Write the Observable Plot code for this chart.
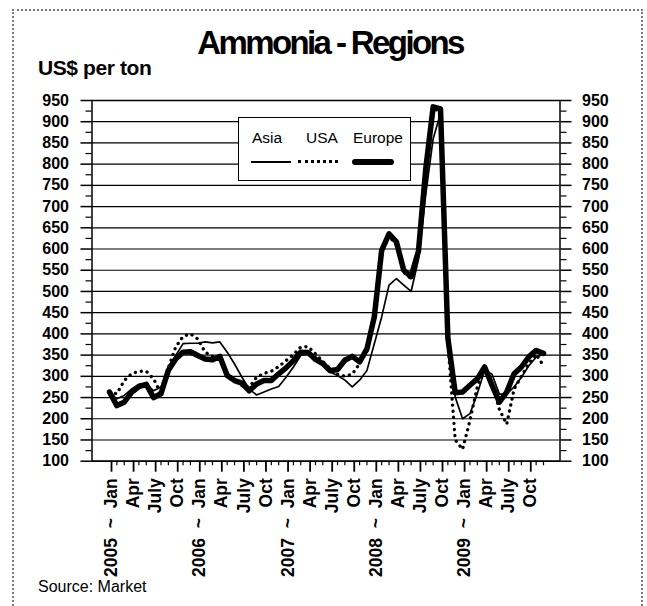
<!DOCTYPE html>
<html><head><meta charset="utf-8">
<script src="https://cdn.jsdelivr.net/npm/d3@7"></script>
<script src="https://cdn.jsdelivr.net/npm/@observablehq/plot@0.6"></script>
<style>
body{margin:0;background:#fff;}
#wrap{position:relative;width:647px;height:606px;overflow:hidden;background:#fff;font-family:"Liberation Sans",Arial,sans-serif;color:#000;}
#wrap svg{position:absolute;left:0;top:0;}
#border{position:absolute;left:12px;top:9px;width:631px;height:620px;border:2px dotted #7a7a7a;box-sizing:border-box;}
.abs{position:absolute;white-space:nowrap;}
#title{left:330px;top:26px;transform:translateX(-50%);font-size:33px;line-height:33px;font-weight:bold;letter-spacing:-2.6px;}
#unit{left:38px;top:57px;font-size:21px;line-height:21px;font-weight:bold;letter-spacing:-0.4px;}
#source{left:38px;top:579px;font-size:16px;line-height:16px;}
#legend{position:absolute;left:238px;top:117px;width:173px;height:64px;border:1.5px solid #000;background:#fff;box-sizing:border-box;}
.lt{font-size:15.5px;line-height:15.5px;top:130px;}
</style>
</head><body>
<div id="wrap">
  <div id="border"></div>
  <div id="chart"></div>
  <div id="title" class="abs">Ammonia - Regions</div>
  <div id="unit" class="abs">US$ per ton</div>
  <div id="source" class="abs">Source: Market</div>
  <div id="legend"></div>
  <div class="abs lt" style="left:252px">Asia</div>
  <div class="abs lt" style="left:306px">USA</div>
  <div class="abs lt" style="left:353px">Europe</div>
  <div class="abs" style="left:251px;top:161px;width:40px;height:2px;background:#000"></div>
  <div class="abs" style="left:298px;top:160px;width:40px;height:0;border-top:3px dotted #000"></div>
  <div class="abs" style="left:352px;top:159px;width:42px;height:6px;border-radius:3px;background:#000"></div>
</div>
<script>
// Categories: monthly, Jan 2005 .. Dec 2009
const years = [2005, 2006, 2007, 2008, 2009];
const monthsPerYear = 12;
// Tick labels (every quarter)
const sep = "\u00a0\u00a0~\u00a0\u00a0";
const tickLabels = [
  "2005" + sep + "Jan","Apr","July","Oct",
  "2006" + sep + "Jan","Apr","July","Oct",
  "2007" + sep + "Jan","Apr","July","Oct",
  "2008" + sep + "Jan","Apr","July","Oct",
  "2009" + sep + "Jan","Apr","July","Oct"
];
const yTicks = [100,150,200,250,300,350,400,450,500,550,600,650,700,750,800,850,900,950];

// Series values (US$ per ton), one per month
const asia = [262,247,255,270,281,282,266,275,322,349,377,378,
              378,381,379,381,357,329,298,270,256,263,270,276,
              298,322,349,357,345,330,310,302,291,275,291,314,
              377,440,515,530,515,500,575,730,860,920,400,251,
              200,212,259,315,305,258,258,275,298,325,345,352];
const usa = [262,259,290,306,312,312,294,259,320,369,394,400,
             388,357,347,337,306,292,278,274,298,307,312,323,
             337,351,369,370,353,335,318,305,300,305,330,360,
             440,590,630,610,545,530,590,790,930,925,380,150,
             128,196,275,322,285,222,187,270,300,330,352,325];
const europe = [263,231,239,262,276,281,250,259,314,341,357,358,
                349,341,339,347,302,290,284,266,282,290,290,306,
                320,337,357,356,340,330,313,316,338,347,334,365,
                440,597,636,617,550,535,595,790,935,930,390,261,
                263,279,294,322,279,239,263,306,322,346,361,354];

const nMonths = years.length * monthsPerYear;
const idx = d3.range(nMonths);
const toRows = arr => arr.map((v, i) => ({i, v}));
const majorIdx = idx.filter(i => i % 3 === 0);
const minorIdx = idx.filter(i => i % 3 !== 0);
const yMinor = yTicks.slice(0, -1).map(v => v + 25);

// layout
const px0 = 109, px1 = 543, axL = 91.5, axR = 559.5;
const k = (px1 - px0) / (nMonths - 1);
const xDomain = [-(px0 - axL) / k, (nMonths - 1) + (axR - px1) / k];

const chart = Plot.plot({
  width: 647, height: 606,
  marginLeft: axL, marginRight: 647 - axR, marginTop: 100, marginBottom: 145.3,
  x: {type: "linear", domain: xDomain, axis: null},
  y: {type: "linear", domain: [100, 950], axis: null},
  style: {fontFamily: "'Liberation Sans', Arial, sans-serif", fontSize: "16px", fontWeight: "bold", color: "#000", background: "transparent", overflow: "visible"},
  marks: [
    Plot.ruleY(yTicks, {stroke: "#000", strokeWidth: 1.2}),
    Plot.frame({stroke: "#000", strokeWidth: 1.5}),
    Plot.axisY({anchor: "left", ticks: yTicks, tickSize: 11, tickPadding: 12, label: null, strokeWidth: 1.5}),
    Plot.axisY({anchor: "left", ticks: yMinor, tickSize: 6, tickFormat: () => "", label: null, strokeWidth: 1.2}),
    Plot.axisY({anchor: "right", ticks: yTicks, tickSize: 11, tickPadding: 11, label: null, strokeWidth: 1.5}),
    Plot.axisY({anchor: "right", ticks: yMinor, tickSize: 6, tickFormat: () => "", label: null, strokeWidth: 1.2}),
    Plot.axisX({anchor: "bottom", ticks: majorIdx, tickSize: 11, tickPadding: 6, tickRotate: -90, textAnchor: "end",
                fontSize: 17.5, tickFormat: i => tickLabels[i / 3], label: null, strokeWidth: 1.8, dx: 2}),
    Plot.axisX({anchor: "bottom", ticks: minorIdx, tickSize: 4.5, tickFormat: () => "", label: null, strokeWidth: 1.2}),
    Plot.line(toRows(europe), {x: "i", y: "v", stroke: "#000", strokeWidth: 5.5, strokeLinejoin: "round", strokeLinecap: "round"}),
    Plot.line(toRows(usa), {x: "i", y: "v", stroke: "#000", strokeWidth: 3.3, strokeDasharray: "0.1 6", strokeLinecap: "round", strokeLinejoin: "round"}),
    Plot.line(toRows(asia), {x: "i", y: "v", stroke: "#000", strokeWidth: 1.7, strokeLinejoin: "round"})
  ]
});
document.getElementById("chart").appendChild(chart);
</script>
</body></html>
